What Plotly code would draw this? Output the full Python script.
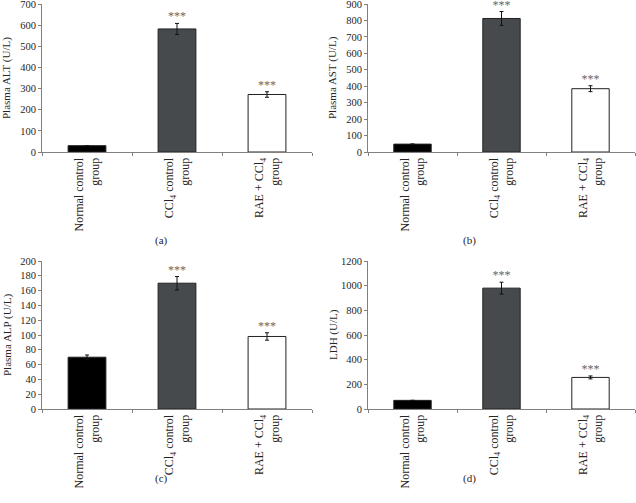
import plotly.graph_objects as go

categories = ["Normal control<br>group", "CCl<sub>4</sub> control<br>group", "RAE + CCl<sub>4</sub><br>group"]
alt_vals = [30, 582, 272]
alt_err = [0, 26, 13]
ast_vals = [48, 812, 385]
ast_err = [0, 42, 18]
alp_vals = [70, 170, 98]
alp_err = [3, 9, 5]
ldh_vals = [70, 980, 256]
ldh_err = [0, 48, 12]
stars = ["", "***", "***"]
bar_colors = ["#000000", "#464a4d", "#ffffff"]

panels = [
    ("Plasma ALT (U/L)", alt_vals, alt_err, 700, 100, "(a)"),
    ("Plasma AST (U/L)", ast_vals, ast_err, 900, 100, "(b)"),
    ("Plasma ALP (U/L)", alp_vals, alp_err, 200, 20, "(c)"),
    ("LDH (U/L)", ldh_vals, ldh_err, 1200, 200, "(d)"),
]

W, H = 636, 503
xpix = [(42, 312), (368, 635)]
ypix = [(4, 152), (261, 409)]
label_pos = [(153, 240), (478, 240), (153, 487), (478, 487)]

FONT = "Liberation Serif"
TXT = "#262626"
AX = "#808080"
fig = go.Figure()
for i, (title, vals, errs, ymax, dt, lab) in enumerate(panels):
    r, c = divmod(i, 2)
    xa = "x" if i == 0 else f"x{i+1}"
    ya = "y" if i == 0 else f"y{i+1}"
    x0, x1 = xpix[c]
    yt, yb = ypix[r]
    fig.add_trace(go.Bar(
        x=categories, y=vals, width=0.42,
        marker=dict(color=bar_colors, line=dict(color="#222222", width=1)),
        error_y=dict(type="data", array=errs, visible=True, color="#111111",
                     thickness=1, width=2),
        xaxis=xa, yaxis=ya, showlegend=False,
    ))
    fig.add_trace(go.Scatter(
        x=categories, y=[v + e for v, e in zip(vals, errs)], mode="text",
        text=stars, textposition="top center",
        textfont=dict(family=FONT, size=12, color="#666666"),
        xaxis=xa, yaxis=ya, showlegend=False, cliponaxis=False,
    ))
    xkey = "xaxis" if i == 0 else f"xaxis{i+1}"
    ykey = "yaxis" if i == 0 else f"yaxis{i+1}"
    fig.layout[xkey] = dict(
        domain=(x0 / W, x1 / W), anchor=ya, type="category", tickangle=-90,
        showline=True, linecolor=AX, linewidth=1,
        ticks="outside", tickson="boundaries", ticklen=3, tickcolor=AX,
        tickfont=dict(family=FONT, size=12, color=TXT),
        showgrid=False, zeroline=False, automargin=False,
    )
    fig.layout[ykey] = dict(
        domain=(1 - yb / H, 1 - yt / H), anchor=xa, range=[0, ymax], dtick=dt,
        showline=True, linecolor=AX, linewidth=1,
        ticks="outside", ticklen=3, tickcolor=AX,
        tickfont=dict(family=FONT, size=10.5, color=TXT),
        ticklabeloverflow="allow",
        showgrid=False, zeroline=False, automargin=False,
    )
    fig.add_annotation(x=(x0 - 35) / W, y=1 - (yt + yb) / 2 / H, xref="paper", yref="paper",
                       text=title, textangle=-90, showarrow=False,
                       xanchor="center", yanchor="middle",
                       font=dict(family=FONT, size=11, color=TXT))
    lx, ly = label_pos[i]
    fig.add_annotation(x=lx / W, y=1 - ly / H, xref="paper", yref="paper",
                       text=lab, showarrow=False,
                       font=dict(family=FONT, size=11, color=TXT))

fig.update_layout(
    width=W, height=H, margin=dict(l=0, r=0, t=0, b=0),
    paper_bgcolor="white", plot_bgcolor="white",
)
fig.write_html("out.html", config={"displayModeBar": False},
               post_script="document.body.style.margin='0px';")
